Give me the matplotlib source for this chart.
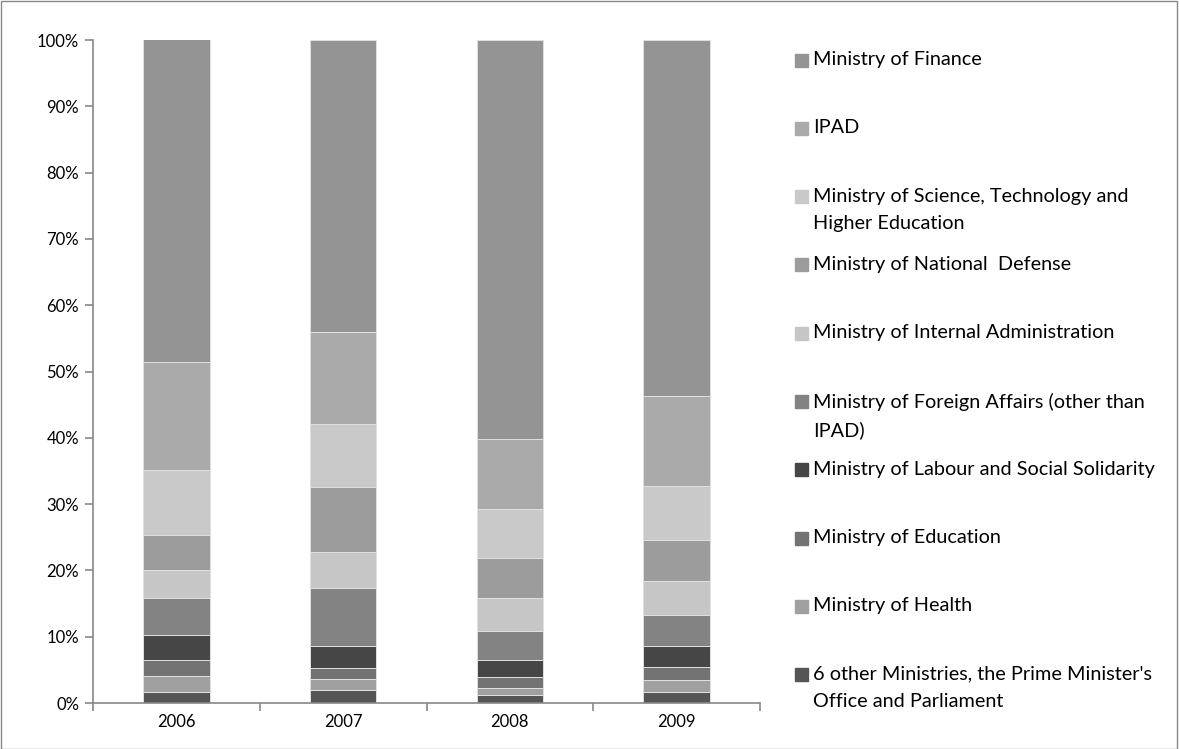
import matplotlib
matplotlib.use("Agg")
import matplotlib.pyplot as plt
import numpy as np
from matplotlib.patches import Rectangle
from matplotlib.ticker import PercentFormatter

plt.rcParams["font.family"] = ["Lato", "DejaVu Sans"]

# ── data (shares in %, bottom segment first) ─────────────────────────────────
years = ["2006", "2007", "2008", "2009"]

series_names = [
    "6 other Ministries, the Prime Minister's\nOffice and Parliament",
    "Ministry of Health",
    "Ministry of Education",
    "Ministry of Labour and Social Solidarity",
    "Ministry of Foreign Affairs (other than\nIPAD)",
    "Ministry of Internal Administration",
    "Ministry of National  Defense",
    "Ministry of Science, Technology and\nHigher Education",
    "IPAD",
    "Ministry of Finance",
]

other_ministries = [1.7, 2.0, 1.25, 1.66]
health = [2.4, 1.6, 1.0, 1.8]
education = [2.4, 1.7, 1.65, 1.95]
labour = [3.8, 3.3, 2.6, 3.2]
foreign_affairs = [5.5, 8.8, 4.4, 4.65]
internal_admin = [4.3, 5.4, 4.9, 5.1]
national_defense = [5.2, 9.8, 6.0, 6.2]
science_tech = [9.8, 9.5, 7.5, 8.1]
ipad = [16.3, 13.8, 10.5, 13.6]
finance = [48.7, 44.1, 60.2, 53.7]

series_values = [other_ministries, health, education, labour, foreign_affairs,
                 internal_admin, national_defense, science_tech, ipad, finance]

colours = ["#555555", "#a0a0a0", "#737373", "#464646", "#838383",
           "#c6c6c6", "#9c9c9c", "#c9c9c9", "#aaaaaa", "#949494"]

# ── figure ───────────────────────────────────────────────────────────────────
W, H = 1179, 749
fig = plt.figure(figsize=(W / 100, H / 100), dpi=100)
ax = fig.add_axes([93 / W, 1 - 703 / H, (760 - 93) / W, (703 - 40) / H])

x = np.arange(len(years))
bottom = np.zeros(len(years))
for vals, col in zip(series_values, colours):
    vals = np.array(vals)
    ax.bar(x, vals, width=0.4, bottom=bottom, color=col,
           edgecolor="#e0e0e0", linewidth=0.7)
    bottom += vals

ax.set_xlim(-0.5, len(years) - 0.5)
ax.set_ylim(0, 100)
ax.set_yticks(np.arange(0, 101, 10))
ax.yaxis.set_major_formatter(PercentFormatter(decimals=0))

ax.set_xticks(x)
ax.set_xticklabels(years)
ax.set_xticks(np.arange(-0.5, len(years)), minor=True)
ax.tick_params(axis="x", which="major", length=0, pad=8, labelsize=12)
ax.tick_params(axis="x", which="minor", length=6, color="#888888", width=1.2)
ax.tick_params(axis="y", length=6, color="#888888", width=1.2, labelsize=12, pad=4)

for side in ("top", "right"):
    ax.spines[side].set_visible(False)
for side in ("left", "bottom"):
    ax.spines[side].set_color("#888888")
    ax.spines[side].set_linewidth(1.2)

# ── legend drawn by hand so the swatch sits on the first text line ───────────
legend_order = list(zip(series_names, colours))[::-1]
for i, (name, col) in enumerate(legend_order):
    yc = 60 + i * 68.3
    fig.patches.append(Rectangle((795 / W, 1 - (yc + 6.5) / H), 13 / W, 13 / H,
                                 transform=fig.transFigure, color=col))
    fig.text(813 / W, 1 - (yc - 9) / H, name, fontsize=14.3, va="top",
             ha="left", linespacing=1.75)

# outer frame
fig.patches.append(Rectangle((0.0005, 0.0005), 0.998, 0.998, transform=fig.transFigure,
                             fill=False, edgecolor="#888888", linewidth=1))

fig.savefig("out.png", dpi=100)
